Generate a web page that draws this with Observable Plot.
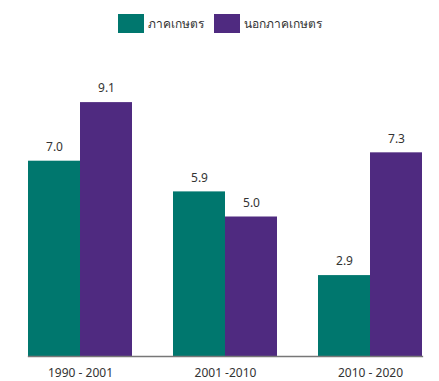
<!DOCTYPE html>
<html><head><meta charset="utf-8">
<script src="https://cdn.jsdelivr.net/npm/d3@7"></script>
<script src="https://cdn.jsdelivr.net/npm/@observablehq/plot@0.6"></script>
<style>
body{margin:0;background:#fff;font-family:"Noto Sans","DejaVu Sans",sans-serif;}
#legend{height:44px;display:flex;justify-content:center;align-items:flex-start;box-sizing:border-box;}
.item{display:flex;align-items:center;margin:14px 5px 0 5px;font-size:12px;color:#333;}
.sw{width:26px;height:19px;margin-right:4px;}
</style></head>
<body>
<div id="legend"></div>
<div id="chart"></div>
<script>
const periods = ["1990 - 2001", "2001 -2010", "2010 - 2020"];
const seriesNames = ["ภาคเกษตร", "นอกภาคเกษตร"];
const agri = [7.0, 5.9, 2.9];
const nonAgri = [9.1, 5.0, 7.3];
const colors = ["#00776e", "#4f2a80"];

const data = [];
periods.forEach((p, i) => {
  data.push({period: p, series: seriesNames[0], value: agri[i]});
  data.push({period: p, series: seriesNames[1], value: nonAgri[i]});
});

const legend = document.getElementById("legend");
seriesNames.forEach((s, i) => {
  const it = document.createElement("div");
  it.className = "item";
  it.innerHTML = `<div class="sw" style="background:${colors[i]}"></div><span>${s}</span>`;
  legend.appendChild(it);
});

const chart = Plot.plot({
  width: 439,
  height: 337,
  marginTop: 33,
  marginBottom: 25,
  marginLeft: 7,
  marginRight: 0,
  style: {fontFamily: "'Noto Sans','DejaVu Sans',sans-serif", fontSize: "12px", color: "#333", overflow: "visible"},
  fx: {domain: periods, range: [7.5, 442.5], paddingInner: 0.28, paddingOuter: 0.14, label: null, tickSize: 0, tickPadding: 12},
  x: {domain: seriesNames, padding: 0, axis: null},
  y: {domain: [0, 10], axis: null},
  color: {domain: seriesNames, range: colors},
  marks: [
    Plot.barY(data, {fx: "period", x: "series", y: "value", fill: "series"}),
    Plot.text(data, {fx: "period", x: "series", y: "value", text: d => d.value.toFixed(1), dy: -14, fill: "#333", fontSize: 12}),
    Plot.frame({anchor: "bottom", facet: "super", stroke: "#777", strokeWidth: 1.3})
  ]
});
document.getElementById("chart").appendChild(chart);
</script>
</body></html>
